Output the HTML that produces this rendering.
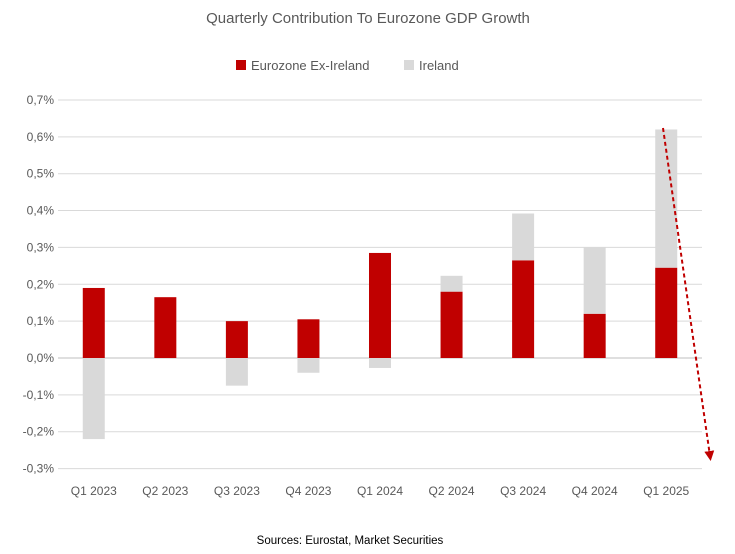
<!DOCTYPE html>
<html><head><meta charset="utf-8"><style>
body{margin:0;background:#fff;width:735px;height:549px;overflow:hidden;font-family:"Liberation Sans",sans-serif}
</style></head><body>
<svg width="735" height="549" id="chart">
<text x="368" y="23" text-anchor="middle" font-size="15" fill="#595959">Quarterly Contribution To Eurozone GDP Growth</text>
<g>
<rect x="236" y="60" width="10" height="10" fill="#c00000"/>
<text x="251" y="70" font-size="13" fill="#595959">Eurozone Ex-Ireland</text>
<rect x="404" y="60" width="10" height="10" fill="#d9d9d9"/>
<text x="419" y="70" font-size="13" fill="#595959">Ireland</text>
</g>
<g id="grid"></g><g id="bars"></g><g id="labels"></g>
<text x="350" y="544" text-anchor="middle" font-size="11.5" fill="#000">Sources: Eurostat, Market Securities</text>
<defs><marker id="ah" markerWidth="5" markerHeight="5" refX="2.5" refY="2.5" orient="auto"><path d="M0,0 L5,2.5 L0,5 z" fill="#c00000"/></marker></defs>
<line x1="663" y1="128" x2="710" y2="456" stroke="#c00000" stroke-width="2" stroke-dasharray="4,3" marker-end="url(#ah)"/>
</svg>
<script>
const categories=["Q1 2023","Q2 2023","Q3 2023","Q4 2023","Q1 2024","Q2 2024","Q3 2024","Q4 2024","Q1 2025"];
const exIreland=[0.19,0.165,0.10,0.105,0.285,0.18,0.265,0.12,0.245];
const ireland=[-0.22,0,-0.075,-0.04,-0.027,0.043,0.127,0.18,0.375];
const ticks=[0.7,0.6,0.5,0.4,0.3,0.2,0.1,0,-0.1,-0.2,-0.3];
const NS="http://www.w3.org/2000/svg";
const L=58,R=702,Y0=358,PX=36.86;
const y=v=>Y0-v*PX*10;
const step=(R-L)/categories.length;
const x=i=>L+step*(i+0.5);
function mk(t,a,p){const e=document.createElementNS(NS,t);for(const k in a)e.setAttribute(k,a[k]);document.getElementById(p).appendChild(e);return e;}
ticks.forEach(t=>{
 const g=mk("line",{x1:L,x2:R,y1:y(t),y2:y(t),stroke:t===0?"#bfbfbf":"#d9d9d9","stroke-width":1},"grid");
 
 
 const tx=mk("text",{x:L-4,y:y(t)+4,"text-anchor":"end","font-size":12,fill:"#595959"},"labels");
 tx.textContent=t.toFixed(1).replace(".",",")+"%";
 
 
});
const bw=22;
categories.forEach((c,i)=>{
 const e=exIreland[i],ir=ireland[i];
 const r1=mk("rect",{x:x(i)-bw/2,y:y(Math.max(e,0)),width:bw,height:Math.abs(y(e)-y(0)),fill:"#c00000"},"bars");
 
 
 if(ir!==0){
  let a,b;
  if(ir>0){a=e;b=e+ir;}else{a=0;b=ir;}
  const r2=mk("rect",{x:x(i)-bw/2,y:y(Math.max(a,b)),width:bw,height:Math.abs(y(a)-y(b)),fill:"#d9d9d9"},"bars");
  
  
 }
 const t=mk("text",{x:x(i),y:495,"text-anchor":"middle","font-size":12,fill:"#595959"},"labels");
 t.textContent=c;
 
 
});
</script>
</body></html>
